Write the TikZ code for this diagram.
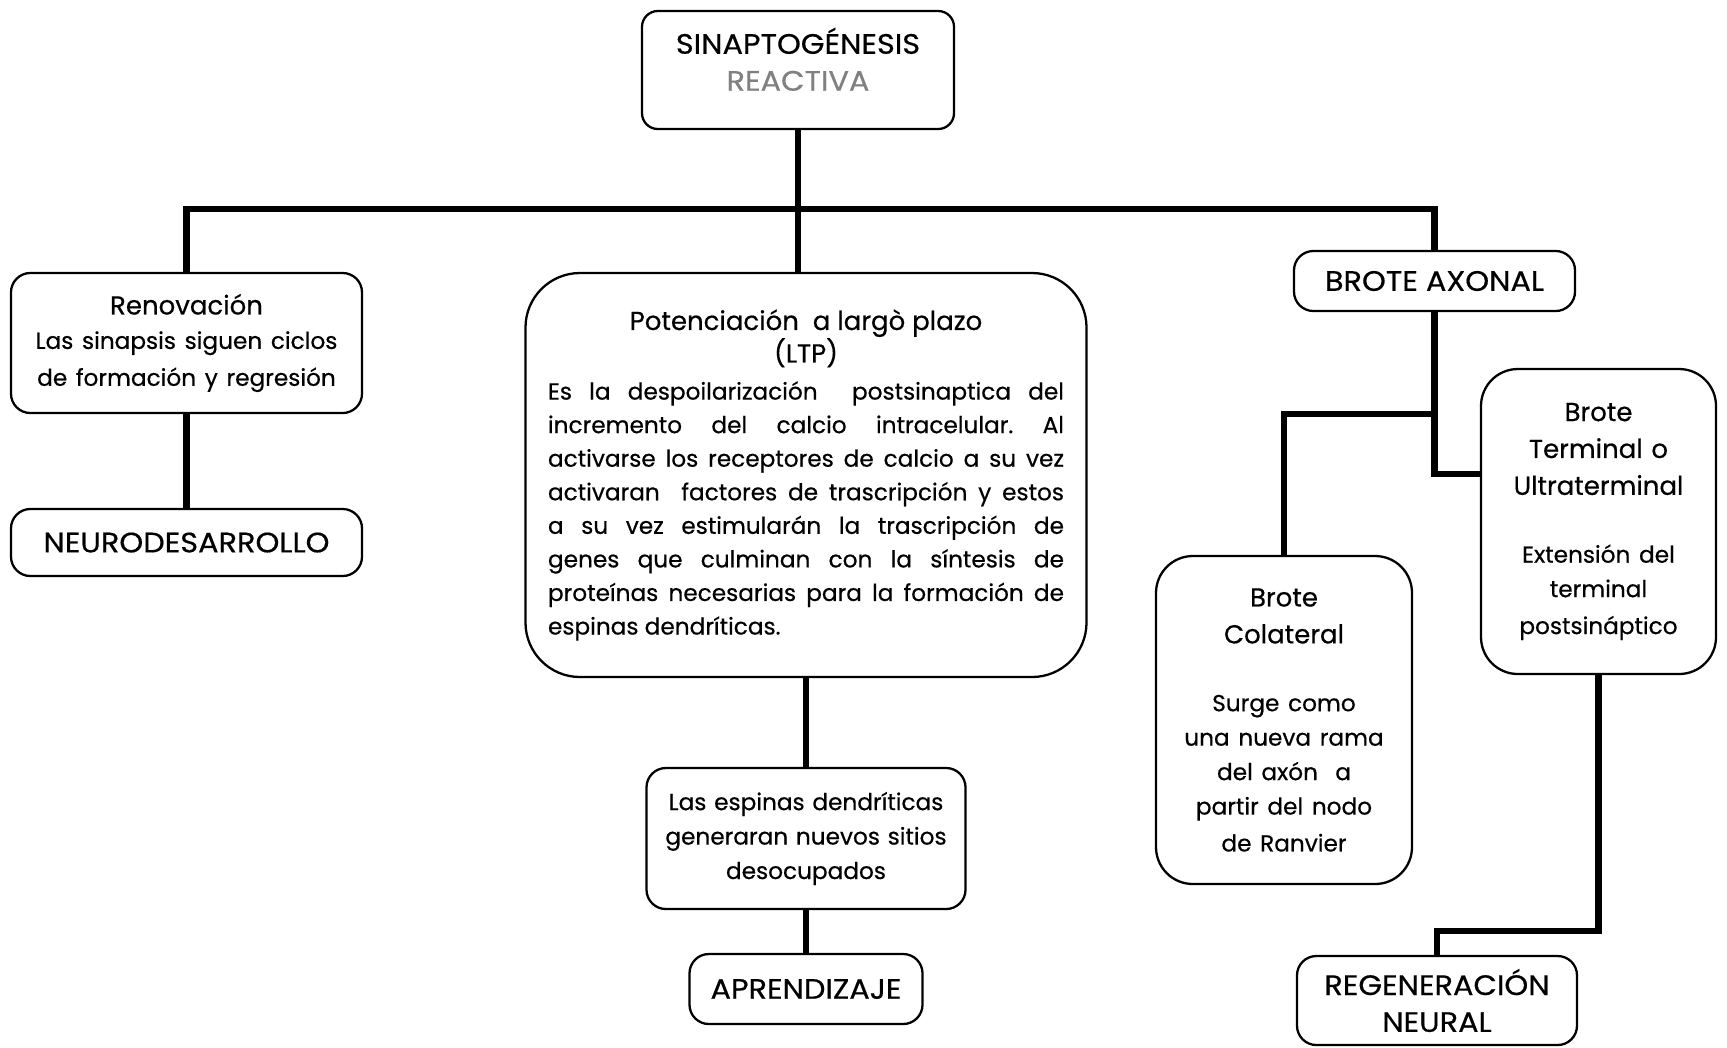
\documentclass[tikz,border=0pt]{standalone}
\usepackage{fontspec}
\setmainfont{Poppins}[FakeBold=0.5]
\newfontfamily\capsfam{Poppins}[FakeStretch=1.08, FakeBold=0.5]
\newcommand{\bodyfont}{\fontsize{13.2}{19.6}\selectfont}
\newcommand{\headfont}{\fontsize{14.8}{21}\selectfont}
\newcommand{\capsfont}{\capsfam\fontsize{16}{21}\selectfont}
\frenchspacing
\begin{document}
\begin{tikzpicture}[x=0.2mm, y=-0.2mm,
  box/.style={draw, line width=1.3pt, rounded corners=11pt, inner sep=0pt, align=center, font=\headfont},
  capbox/.style={box, font=\capsfont},
  tallbox/.style={box, rounded corners=21pt},
  link/.style={line width=3.5pt}]
  \useasboundingbox (0,0) rectangle (1727,1047);

  % boxes
  \node[capbox, rounded corners=9pt, minimum width=62.4mm, minimum height=23.6mm] (top) at (798,70)
    {\raisebox{3pt}[\height][\depth]{\begin{tabular}{@{}c@{}}SINAPTOGÉNESIS\\ \textcolor{gray}{REACTIVA}\end{tabular}}};
  \node[box, minimum width=70.2mm, minimum height=28mm, text width=68mm] (ren) at (186.5,343)
    {Renovación\par \bodyfont Las sinapsis siguen ciclos\\ de formación y regresión};
  \node[capbox, minimum width=70.2mm, minimum height=13.4mm] (neuro) at (186.5,542.5) {NEURODESARROLLO};
  \node[box, rounded corners=31pt, minimum width=112.2mm, minimum height=80.8mm, text width=103.2mm,
        align=justify, font=\fontsize{13.2}{19.1}\selectfont] (ltp) at (806,475)
    {{\centering\fontsize{14.8}{18.5}\selectfont Potenciación\ \ a largò plazo\\ (LTP)\par}\vspace{2pt}
     Es la despoilarización\ \ postsinaptica del\linebreak
     incremento del calcio intracelular. Al\linebreak
     activarse los receptores de calcio a su vez\linebreak
     activaran\ \ factores de trascripción y estos\linebreak
     a su vez estimularán la trascripción de\linebreak
     genes que culminan con la síntesis de\linebreak
     proteínas necesarias para la formación de\linebreak
     espinas dendríticas.};
  \node[box, minimum width=63.8mm, minimum height=28.2mm, text width=61mm, font=\bodyfont] (esp) at (806,838.5)
    {Las espinas dendríticas\\ generaran nuevos sitios\\ desocupados};
  \node[capbox, minimum width=46.6mm, minimum height=14mm] (apr) at (806,989) {APRENDIZAJE};
  \node[capbox, minimum width=56.2mm, minimum height=12mm] (axo) at (1434.5,281) {BROTE AXONAL};
  \node[tallbox, minimum width=51.2mm, minimum height=65.6mm, text width=48mm] (col) at (1284,720)
    {Brote\\ Colateral\par\vspace{19pt}
     \bodyfont Surge como\\ una nueva rama\\ del axón\ \ a\\ partir del nodo\\ de Ranvier};
  \node[tallbox, minimum width=47mm, minimum height=61mm, text width=45mm] (term) at (1598.5,521.5)
    {Brote\\ Terminal o\\ Ultraterminal\par\vspace{19pt}
     \bodyfont Extensión del\\ terminal\\ postsináptico};
  \node[capbox, minimum width=56mm, minimum height=17.8mm, text width=54mm] (regen) at (1437,1000.5)
    {REGENERACIÓN\\ NEURAL};

  % connectors
  \coordinate (hub) at (798,209);
  \coordinate (jC) at (1434,414);
  \coordinate (jT) at (1481,474);
  \coordinate (jR) at (1598.5,931);
  \draw[link] (top.south) -- (top.south |- ltp.north);
  \draw[link] (ren.north) |- (hub) -| (axo.north);
  \draw[link] (ren.south) -- (neuro.north);
  \draw[link] (ltp.south) -- (esp.north);
  \draw[link] (esp.south) -- (apr.north);
  \draw[link] (axo.south) |- (jT);
  \draw[link] (jC) -| (col.north);
  \draw[link] (term.south) -- (jR) -| (regen.north);
\end{tikzpicture}
\end{document}
